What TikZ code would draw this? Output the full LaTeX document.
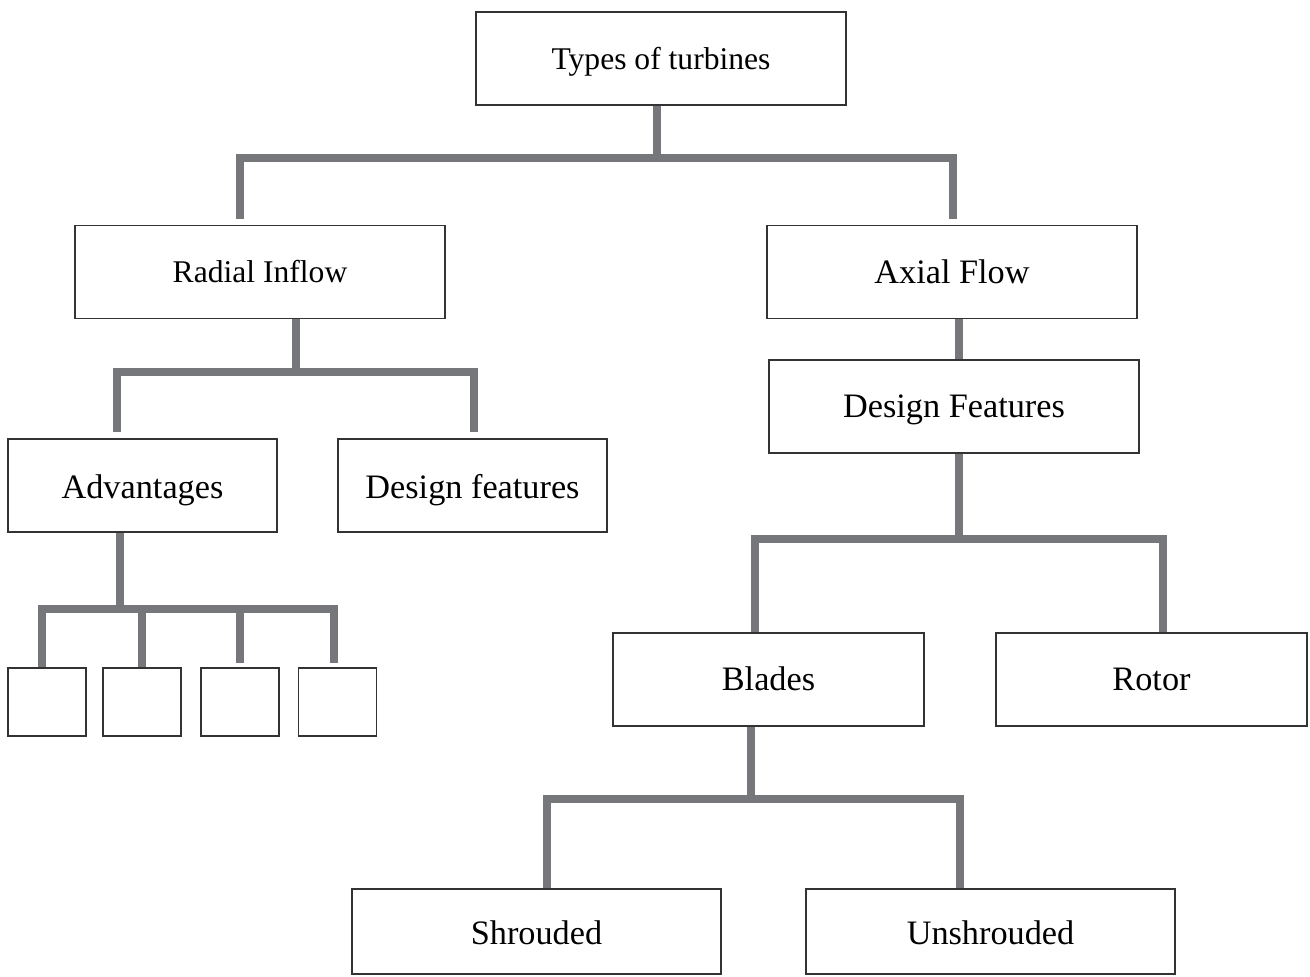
\documentclass[tikz,border=0pt]{standalone}
\usepackage{fontspec}
\setmainfont{Liberation Serif}
\usetikzlibrary{calc}
\definecolor{conncol}{HTML}{76777B}
\definecolor{boxcol}{HTML}{333333}
\tikzset{
  box/.style={draw=boxcol, line width=1.1pt, rectangle, inner sep=0pt, align=center, fill=white},
  bigbox/.style={box, minimum width=370*0.75pt, minimum height=93*0.75pt},
  midbox/.style={box, minimum width=269*0.75pt, minimum height=93*0.75pt},
  bladebox/.style={box, minimum width=311*0.75pt, minimum height=93*0.75pt},
  smallbox/.style={box, minimum width=78*0.75pt, minimum height=68*0.75pt},
  leafbox/.style={box, minimum width=369*0.75pt, minimum height=85*0.75pt},
  fa/.style={font=\fontsize{23.7pt}{28pt}\selectfont},
  fb/.style={font=\fontsize{25.7pt}{30pt}\selectfont},
  base/.style={text height=#1, text depth=0pt},
  conn/.style={draw=conncol, line width=6pt, line join=miter}
}
\begin{document}
\begin{tikzpicture}[x=0.75pt,y=-0.75pt]
\useasboundingbox (0,0) rectangle (1310,976);
% nodes
\node[bigbox,fa,base=15.8pt] (types) at (661,58.5) {Types of turbines};
\node[bigbox,fa,base=15pt] (radial) at (260,272) {Radial Inflow};
\node[bigbox,fb,base=16.5pt] (axial) at (952,272) {Axial Flow};
\node[bigbox,fb,base=15.8pt] (dfeat) at (954,406.5) {Design Features};
\node[midbox,fb,base=18.8pt] (adv) at (142.5,485.5) {Advantages};
\node[midbox,fb,base=18.8pt] (dfl) at (472.5,485.5) {Design features};
\node[smallbox] (s1) at (47,702) {};
\node[smallbox] (s2) at (142,702) {};
\node[smallbox] (s3) at (240,702) {};
\node[smallbox] (s4) at (337.5,702) {};
\node[bladebox,fb,base=17.2pt] (blades) at (768.5,679.5) {Blades};
\node[bladebox,fb,base=17.2pt] (rotor) at (1151.5,679.5) {Rotor};
\node[leafbox,fb,base=18.8pt] (shr) at (536.5,931.5) {Shrouded};
\node[leafbox,fb,base=18.8pt] (unshr) at (990.5,931.5) {Unshrouded};
% connectors: types
\coordinate (jt) at ($(types.south)+(-4,52)$);
\draw[conn] (types.south -| jt) -- (jt);
\draw[conn] ($(radial.north)+(-20,-6)$) |- (jt) -| ($(axial.north)+(1,-6)$);
% radial
\coordinate (jr) at ($(radial.south)+(36,53)$);
\draw[conn] (radial.south -| jr) -- (jr);
\draw[conn] ($(adv.north)+(-25.5,-6)$) |- (jr) -| ($(dfl.north)+(1.5,-6)$);
% axial -> design features
\draw[conn] (axial.south -| dfeat.north) ++(5,0) -- ($(dfeat.north)+(5,0)$);
% design features
\coordinate (jd) at ($(dfeat.south)+(5,85)$);
\draw[conn] (dfeat.south -| jd) -- (jd);
\draw[conn] ($(blades.north)+(-13.5,0)$) |- (jd) -| ($(rotor.north)+(11.5,0)$);
% advantages
\coordinate (ja) at ($(adv.south)+(-22.5,76)$);
\draw[conn] (adv.south -| ja) -- (ja);
\draw[conn] ($(s1.north)+(-5,0)$) |- (ja) -| ($(s4.north)+(-3.5,-4)$);
\draw[conn] (s2.north) -- (s2.north |- ja);
\draw[conn] ($(s3.north)+(0,-4)$) -- (s3.north |- ja);
% blades
\coordinate (jb) at ($(blades.south)+(-17.5,72)$);
\draw[conn] (blades.south -| jb) -- (jb);
\draw[conn] ($(shr.north)+(10.5,0)$) |- (jb) -| ($(unshr.north)+(-30.5,0)$);
\end{tikzpicture}
\end{document}
